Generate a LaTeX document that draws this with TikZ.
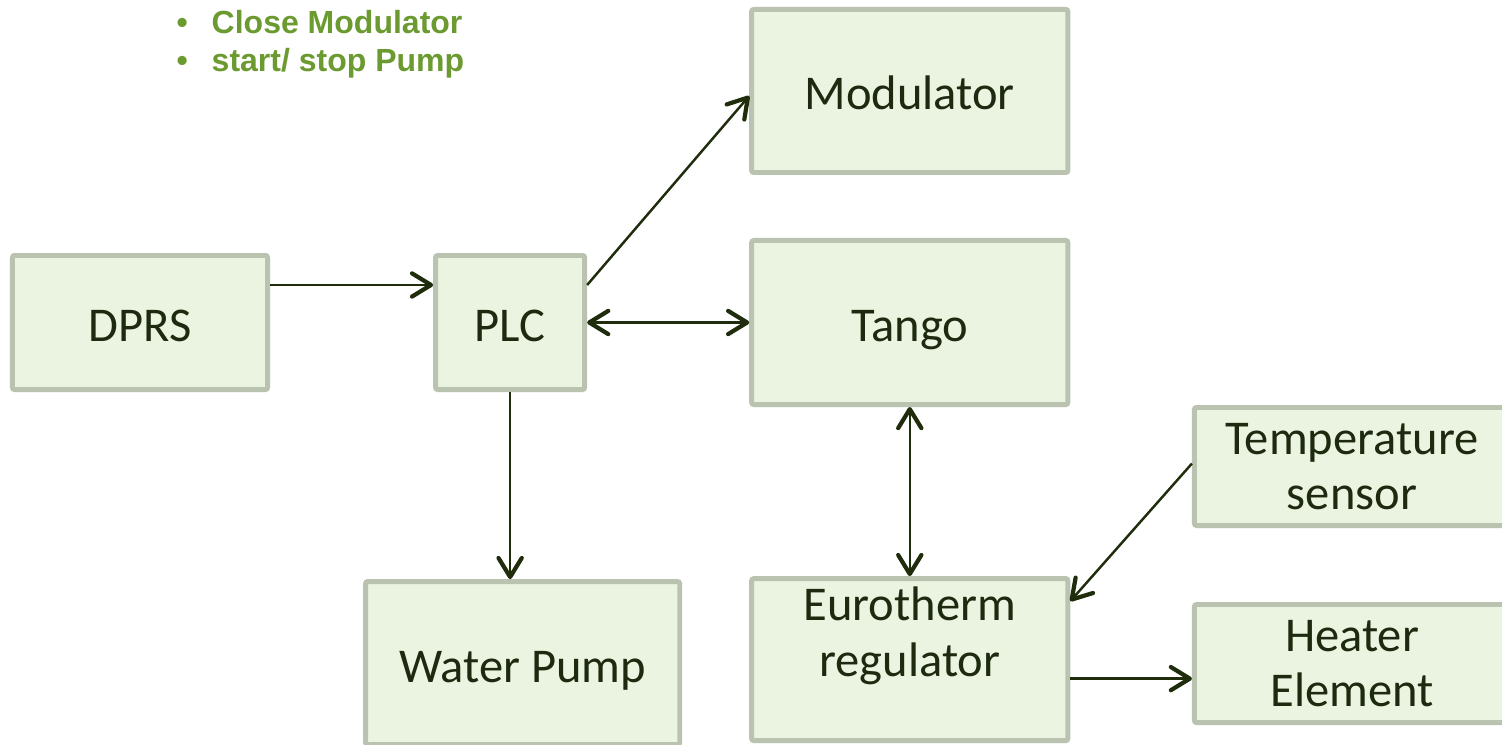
\documentclass[tikz,border=0pt]{standalone}
\usepackage{fontspec}
\setmainfont{Carlito}
\newfontfamily\notefont{Liberation Sans}
\usetikzlibrary{positioning,arrows.meta}
\definecolor{boxfill}{RGB}{235,244,224}
\definecolor{boxline}{RGB}{186,195,175}
\definecolor{linkcol}{RGB}{31,45,12}
\definecolor{textcol}{RGB}{30,42,16}
\definecolor{notecol}{RGB}{106,154,48}

\begin{document}
\begin{tikzpicture}[
x=0.01cm,y=-0.01cm,
box/.style={draw=boxline,line width=1.4pt,rounded corners=0.6pt,fill=boxfill,align=center,
  text=textcol,font=\fontsize{13.8pt}{15.8pt}\selectfont,inner sep=0pt},
oneline/.style={text height=11pt,text depth=0.2pt},
link/.style={draw=linkcol,line width=0.7pt},
>={Straight Barb[length=5.4pt,width=6.6pt,line width=1.2pt,round]}
]
\useasboundingbox (0,0) rectangle (1502,745);
\clip (0,0) rectangle (1502,745);

\node[box,oneline,minimum width=2.55cm,minimum height=1.34cm] (dprs) at (140,322.5) {DPRS};
\node[box,oneline,minimum width=1.49cm,minimum height=1.34cm,right=1.63cm of dprs] (plc) {PLC};
\node[box,oneline,minimum width=3.16cm,minimum height=1.64cm,right=1.62cm of plc] (tango) {Tango};
\node[box,oneline,minimum width=3.16cm,minimum height=1.63cm,above=0.63cm of tango] (mod) {Modulator};
\node[box,minimum width=3.16cm,minimum height=1.62cm,below=1.69cm of tango] (eu) {Eurotherm\\regulator\\\mbox{}};
\node[box,oneline,minimum width=3.14cm,minimum height=1.63cm,below=1.87cm of plc,xshift=0.125cm] (wp) {Water Pump};
\node[box,minimum width=3.15cm,minimum height=1.18cm] (temp) at (1352,466.5) {Temperature\\sensor};
\node[box,minimum width=3.15cm,minimum height=1.18cm,below=0.74cm of temp] (heat) {Heater\\Element};

% notes at the top
\node[anchor=west,inner sep=0pt,align=left,text=notecol,
  font=\notefont\bfseries\fontsize{9.1pt}{10.8pt}\selectfont] (notes) at (176,44.5)
  {\hbox to 0.35cm{\textbullet\hfil}Close Modulator\\
   \hbox to 0.35cm{\textbullet\hfil}start/ stop Pump};

\coordinate (dprsout) at ([yshift=0.375cm]dprs.east);
\coordinate (plcup) at ([yshift=0.375cm]plc.east);
\coordinate (euout) at ([yshift=-0.19cm]eu.east);

\draw[link,->] (dprsout) -- (dprsout -| plc.west);
\draw[link,->] (plcup) -- ([yshift=-0.05cm]mod.west);
\draw[link,<->] (plc.east) -- (tango.west);
\draw[link,->] (plc.south) -- (plc.south |- wp.north);
\draw[link,<->] (tango.south) -- (eu.north);
\draw[link,->] ([yshift=0.03cm]temp.west) -- ([yshift=-0.25cm]eu.north east);
\draw[link,->] (euout) -- (euout -| heat.west);
\end{tikzpicture}
\end{document}
